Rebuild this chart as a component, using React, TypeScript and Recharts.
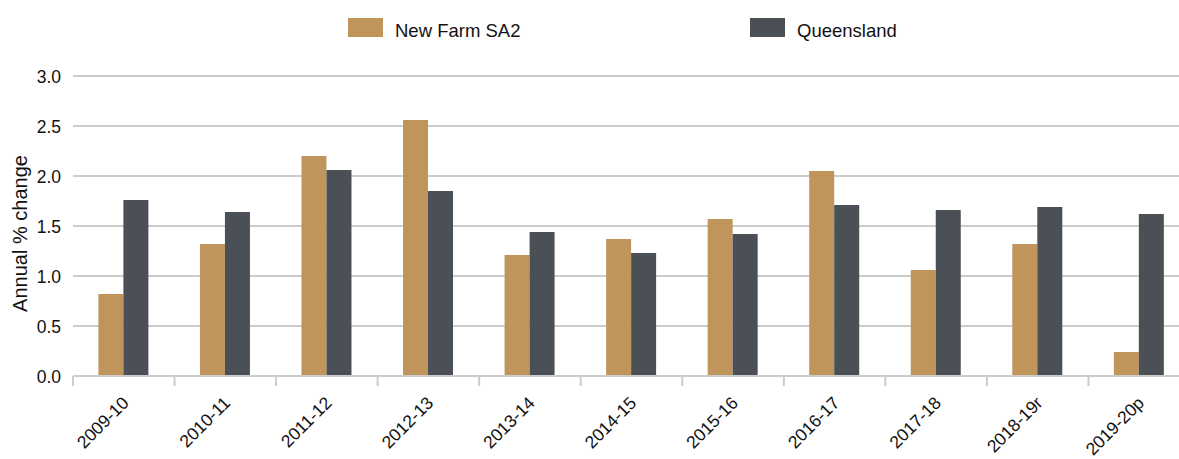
import { BarChart, Bar, XAxis, YAxis, CartesianGrid, Legend } from 'recharts'

const periods = [
  '2009-10', '2010-11', '2011-12', '2012-13', '2013-14', '2014-15',
  '2015-16', '2016-17', '2017-18', '2018-19r', '2019-20p',
]
const newFarm = [0.82, 1.32, 2.2, 2.56, 1.21, 1.37, 1.57, 2.05, 1.06, 1.32, 0.24]
const queensland = [1.76, 1.64, 2.06, 1.85, 1.44, 1.23, 1.42, 1.71, 1.66, 1.69, 1.62]
const yTicks = [0, 0.5, 1, 1.5, 2, 2.5, 3]

const seriesNames = { newFarm: 'New Farm SA2', queensland: 'Queensland' }
const colors = { newFarm: '#BF955C', queensland: '#4B4F56' }

const data = periods.map((period, i) => ({
  period,
  newFarm: newFarm[i],
  queensland: queensland[i],
}))

const FONT = '"Liberation Sans", Arial, sans-serif'
const GRID = '#cccccc'
const INK = '#111111'

function PeriodTick(props: any) {
  const { x, y, payload } = props
  const half = payload?.offset ?? 50.75
  const tx = x + 6
  const ty = y + 20
  return (
    <g>
      <line x1={x - half} y1={y - 8} x2={x - half} y2={y + 2} stroke={GRID} strokeWidth={2} />
      <text
        transform={`translate(${tx} ${ty}) rotate(-45)`}
        textAnchor="end"
        fontSize={17.5}
        fontFamily={FONT}
        fill={INK}
      >
        {payload.value}
      </text>
    </g>
  )
}

function ValueTick(props: any) {
  const { y, payload } = props
  return (
    <text x={61} y={y + 6.5} textAnchor="end" fontSize={17.5} fontFamily={FONT} fill={INK}>
      {Number(payload.value).toFixed(1)}
    </text>
  )
}

function AxisTitle(props: any) {
  const vb = props.viewBox || { y: 76, height: 300 }
  const cy = vb.y + vb.height / 2 + 7.5
  return (
    <text
      transform={`translate(26.5 ${cy}) rotate(-90)`}
      textAnchor="middle"
      fontSize={20}
      fontFamily={FONT}
      fill={INK}
    >
      Annual % change
    </text>
  )
}

function ChartLegend({ payload }: any) {
  return (
    <div style={{ display: 'flex', paddingLeft: 348, height: 60, fontFamily: FONT }}>
      {(payload || []).map((item: any) => (
        <div key={item.value} style={{ width: 402, position: 'relative', height: 40 }}>
          <div
            style={{ position: 'absolute', left: 0, top: 2, width: 35, height: 19, background: item.color }}
          />
          <div
            style={{ position: 'absolute', left: 47, top: 5.5, fontSize: 18.5, lineHeight: '18.5px', color: INK, whiteSpace: 'nowrap' }}
          >
            {item.value}
          </div>
        </div>
      ))}
    </div>
  )
}

export default function App() {
  return (
    <div style={{ position: 'absolute', left: 0, top: 0, width: 1179, height: 459, overflow: 'hidden', background: '#fff' }}>
      <style>{'body{margin:0}'}</style>
      <BarChart
        width={1190}
        height={459}
        data={data}
        margin={{ top: 16, right: 0, left: 0, bottom: 0 }}
        barCategoryGap="25%"
        barGap={0}
      >
        <CartesianGrid vertical={false} stroke={GRID} strokeWidth={2} />
        <Legend verticalAlign="top" align="left" height={60} content={<ChartLegend />} />
        <XAxis
          dataKey="period"
          height={83}
          interval={0}
          axisLine={{ stroke: GRID, strokeWidth: 2 }}
          tickLine={false}
          tick={<PeriodTick />}
        />
        <YAxis
          width={73}
          domain={[0, 3]}
          ticks={yTicks}
          axisLine={false}
          tickLine={false}
          tick={<ValueTick />}
          label={<AxisTitle />}
        />
        <Bar dataKey="newFarm" name={seriesNames.newFarm} fill={colors.newFarm} isAnimationActive={false} />
        <Bar dataKey="queensland" name={seriesNames.queensland} fill={colors.queensland} isAnimationActive={false} />
      </BarChart>
    </div>
  )
}
